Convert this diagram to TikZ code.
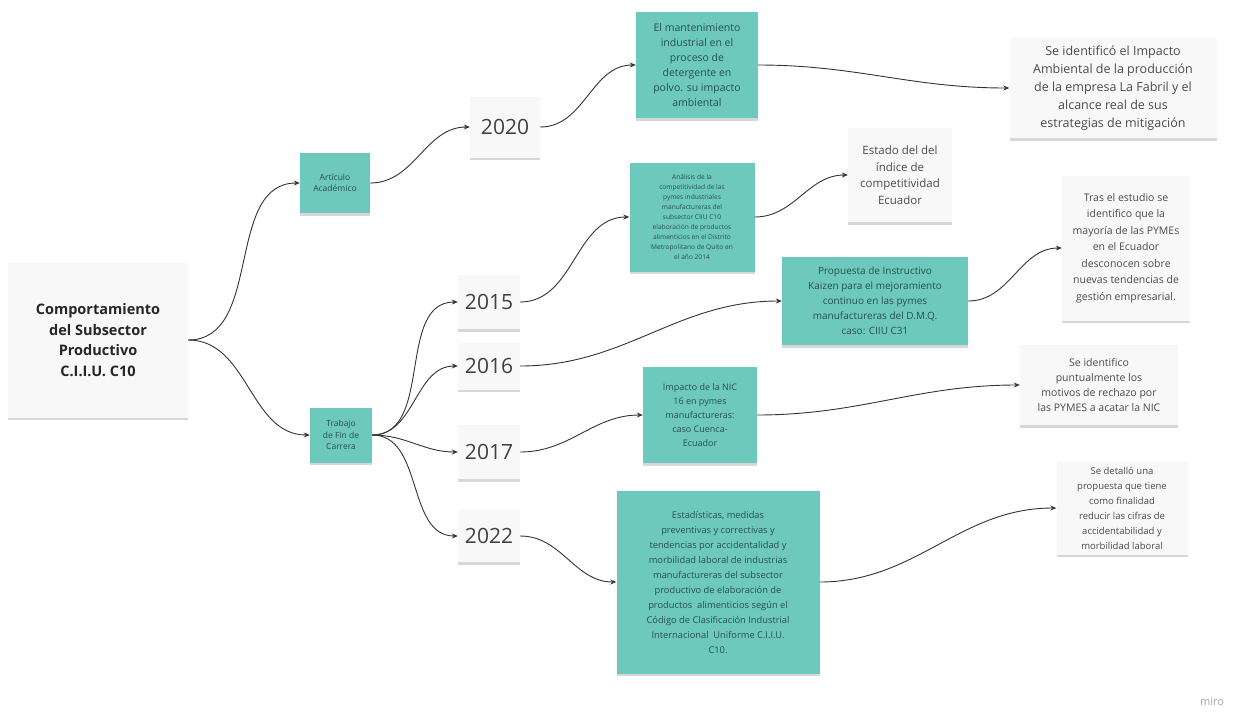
\documentclass[tikz,border=0pt]{standalone}
\usepackage{fontspec}
\setmainfont{Open Sans}
\usetikzlibrary{shadows,arrows.meta}
\definecolor{teal1}{RGB}{110,201,189}
\definecolor{tealtxt}{RGB}{40,80,74}
\definecolor{whitebox}{RGB}{248,248,248}
\definecolor{wtxt}{RGB}{75,75,75}
\tikzset{
  sh/.style={drop shadow={shadow xshift=0pt,shadow yshift=-2.5pt,opacity=0.22,fill=black!70}},
  tbox/.style={fill=teal1,draw=none,align=center,text=tealtxt,inner sep=2pt,sh},
  wbox/.style={fill=whitebox,draw=none,align=center,text=wtxt,inner sep=2pt,sh},
  ybox/.style={wbox,font=\fontsize{21}{24}\selectfont,text=black!75,minimum width=62pt,minimum height=54pt},
  arr/.style={draw=black!80,line width=0.9pt,-{Stealth[length=6pt,width=5pt]}},
}
\begin{document}
\begin{tikzpicture}[x=1pt,y=-1pt]
\useasboundingbox (0,0) rectangle (1240,713);
\fill[white] (0,0) rectangle (1240,713);

\node[wbox,minimum width=180pt,minimum height=155pt,font=\bfseries\fontsize{14.5}{20.5}\selectfont,text=black!85] (main) at (98,340) {Comportamiento\\del Subsector\\Productivo\\C.I.I.U. C10};

\node[tbox,minimum width=70pt,minimum height=60pt,font=\fontsize{8.5}{11.5}\selectfont] (art) at (335,183) {Artículo\\Académico};
\node[tbox,minimum width=62pt,minimum height=55pt,font=\fontsize{8.5}{11.5}\selectfont] (tfc) at (341,435) {Trabajo\\de Fin de\\Carrera};

\node[ybox,minimum width=70pt,minimum height=61pt] (y20) at (505,127) {2020};
\node[ybox] (y15) at (489,302) {2015};
\node[ybox,minimum height=47pt] (y16) at (489,366) {2016};
\node[ybox] (y17) at (489,452) {2017};
\node[ybox,minimum height=52pt] (y22) at (489,536) {2022};

\node[tbox,minimum width=122pt,minimum height=106pt,font=\fontsize{10.5}{15}\selectfont] (mant) at (697,65) {El mantenimiento\\industrial en el\\proceso de\\detergente en\\polvo. su impacto\\ambiental};
\node[tbox,minimum width=125pt,minimum height=109pt,font=\fontsize{6.6}{10}\selectfont] (anal) at (692,217) {Análisis de la\\competitividad de las\\pymes industriales\\manufactureras del\\subsector CIIU C10\\elaboración de productos\\alimenticios en el Distrito\\Metropolitano de Quito en\\el año 2014};
\node[tbox,minimum width=186pt,minimum height=88pt,font=\fontsize{10}{15}\selectfont] (kai) at (875,301) {Propuesta de Instructivo\\Kaizen para el mejoramiento\\continuo en las pymes\\manufactureras del D.M.Q.\\caso: CIIU C31};
\node[tbox,minimum width=114pt,minimum height=96pt,font=\fontsize{9}{14}\selectfont] (nic) at (700,415) {Impacto de la NIC\\16 en pymes\\manufactureras:\\caso Cuenca-\\Ecuador};
\node[tbox,minimum width=203pt,minimum height=183pt,font=\fontsize{9.3}{15}\selectfont] (est) at (718,582) {Estadísticas, medidas\\preventivas y correctivas y\\tendencias por accidentalidad y\\morbilidad laboral de industrias\\manufactureras del subsector\\productivo de elaboración de\\productos \ alimenticios según el\\Código de Clasificación Industrial\\Internacional \ Uniforme C.I.I.U.\\C10.};

\node[wbox,minimum width=207pt,minimum height=100pt,font=\fontsize{12.5}{18}\selectfont] (r1) at (1113,88) {Se identificó el Impacto\\Ambiental de la producción\\de la empresa La Fabril y el\\alcance real de sus\\estrategias de mitigación};
\node[wbox,minimum width=104pt,minimum height=94pt,font=\fontsize{11.5}{16.5}\selectfont] (r2) at (900,175) {Estado del del\\índice de\\competitividad\\Ecuador};
\node[wbox,minimum width=128pt,minimum height=145pt,font=\fontsize{10.5}{16.5}\selectfont] (r3) at (1126,248) {Tras el estudio se\\identifico que la\\mayoría de las PYMEs\\en el Ecuador\\desconocen sobre\\nuevas tendencias de\\gestión empresarial.};
\node[wbox,minimum width=158pt,minimum height=80pt,font=\fontsize{10.5}{15}\selectfont] (r4) at (1099,385) {Se identifico\\puntualmente los\\motivos de rechazo por\\las PYMES a acatar la NIC};
\node[wbox,minimum width=131pt,minimum height=93pt,font=\fontsize{9.5}{15}\selectfont] (r5) at (1122,508) {Se detalló una\\propuesta que tiene\\como finalidad\\reducir las cifras de\\accidentabilidad y\\morbilidad laboral};

\node[text=black!35,font=\fontsize{11}{13}\selectfont] (miro) at (1212,702) {miro};

\draw[arr] (main.east) to[out=0,in=180] (art.west);
\draw[arr] (main.east) to[out=0,in=180] (tfc.west);
\draw[arr] (art.east) to[out=0,in=180] (y20.west);
\draw[arr] (tfc.east) to[out=0,in=180] (y15.west);
\draw[arr] (tfc.east) to[out=0,in=180] (y16.west);
\draw[arr] (tfc.east) to[out=0,in=180] (y17.west);
\draw[arr] (tfc.east) to[out=0,in=180] (y22.west);
\draw[arr] (y20.east) to[out=0,in=180] (mant.west);
\draw[arr] (mant.east) to[out=0,in=180] (r1.west);
\draw[arr] (y15.east) to[out=0,in=180] (anal.west);
\draw[arr] (anal.east) to[out=0,in=180] (r2.west);
\draw[arr] (y16.east) to[out=0,in=180] (kai.west);
\draw[arr] (kai.east) to[out=0,in=180] (r3.west);
\draw[arr] (y17.east) to[out=0,in=180] (nic.west);
\draw[arr] (nic.east) to[out=0,in=180] (r4.west);
\draw[arr] (y22.east) to[out=0,in=180] (est.west);
\draw[arr] (est.east) to[out=0,in=180] (r5.west);
\end{tikzpicture}
\end{document}
